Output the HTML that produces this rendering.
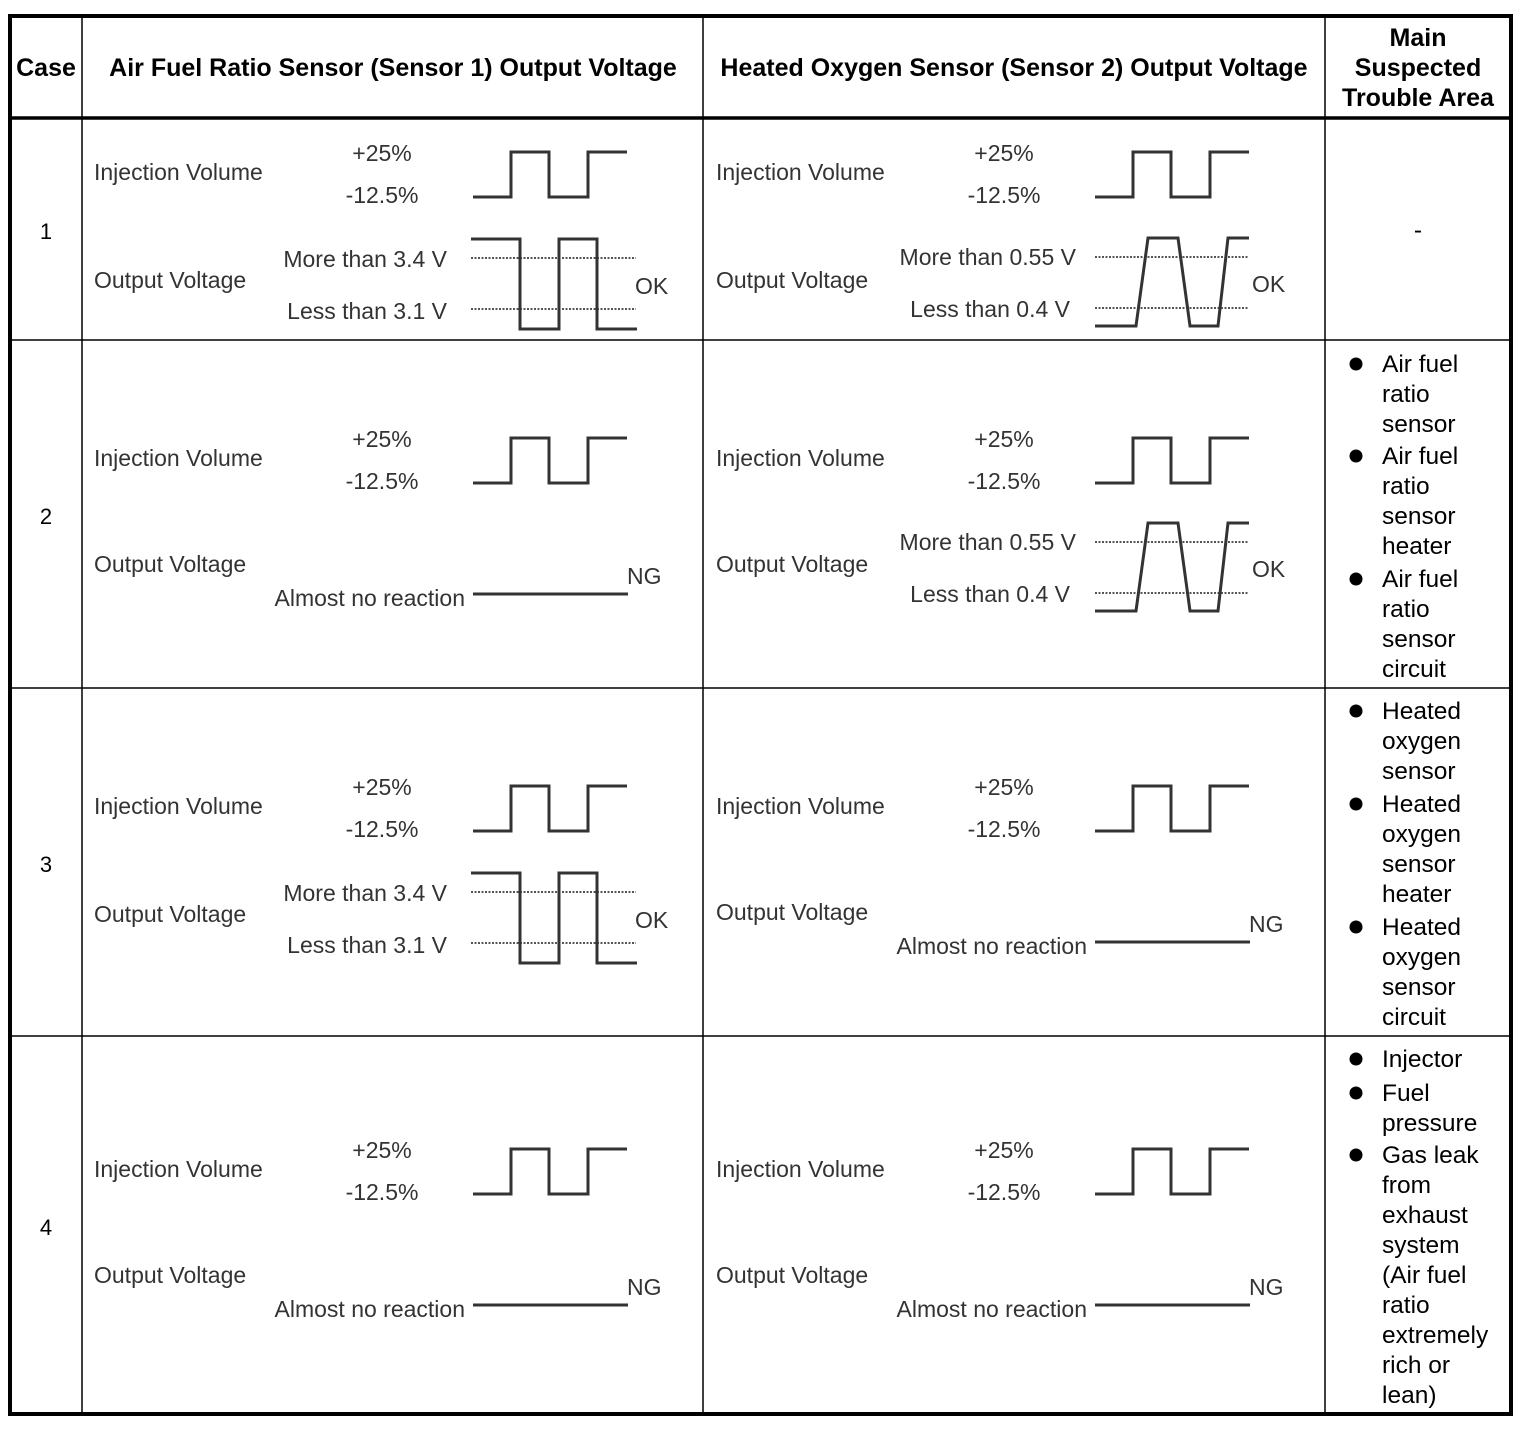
<!DOCTYPE html>
<html><head><meta charset="utf-8"><style>
html,body{margin:0;padding:0;background:#fff}
svg{display:block}
text{font-family:"Liberation Sans",Arial,sans-serif}
.t{font-size:23px;fill:#333}
.h{font-size:25px;font-weight:bold;fill:#000}
.r{font-size:24.5px;fill:#000}
.w{fill:none;stroke:#333;stroke-width:3}
.d{fill:none;stroke:#555;stroke-width:2;stroke-dasharray:2 1.5}
</style></head><body>
<svg width="1526" height="1430" viewBox="0 0 1526 1430">
<rect x="0" y="0" width="1526" height="1430" fill="#fff"/>
<g stroke="#000" fill="none">
<rect x="10" y="16" width="1501" height="1398" stroke-width="4"/>
<line x1="10" y1="118" x2="1511" y2="118" stroke-width="3.5"/>
<line x1="10" y1="340" x2="1511" y2="340" stroke-width="1.5"/>
<line x1="10" y1="688" x2="1511" y2="688" stroke-width="1.5"/>
<line x1="10" y1="1036" x2="1511" y2="1036" stroke-width="1.5"/>
<line x1="82" y1="16" x2="82" y2="1414" stroke-width="1.5"/>
<line x1="703" y1="16" x2="703" y2="1414" stroke-width="1.5"/>
<line x1="1325" y1="16" x2="1325" y2="1414" stroke-width="1.5"/>
</g>
<text class="h" x="46" y="76" text-anchor="middle">Case</text>
<text class="h" x="393" y="76" text-anchor="middle">Air Fuel Ratio Sensor (Sensor 1) Output Voltage</text>
<text class="h" x="1014" y="76" text-anchor="middle">Heated Oxygen Sensor (Sensor 2) Output Voltage</text>
<text class="h" x="1418" y="46" text-anchor="middle">Main</text>
<text class="h" x="1418" y="76" text-anchor="middle">Suspected</text>
<text class="h" x="1418" y="106" text-anchor="middle">Trouble Area</text>
<text class="r" x="46" y="239" text-anchor="middle" style="font-size:22px">1</text>
<text class="r" x="46" y="524" text-anchor="middle" style="font-size:22px">2</text>
<text class="r" x="46" y="872" text-anchor="middle" style="font-size:22px">3</text>
<text class="r" x="46" y="1235" text-anchor="middle" style="font-size:22px">4</text>

<g>
<text class="t" x="94" y="180">Injection Volume</text>
<text class="t" x="382" y="161" text-anchor="middle">+25%</text>
<text class="t" x="382" y="203" text-anchor="middle">-12.5%</text>
<polyline class="w" points="473,197 511,197 511,152 549,152 549,197 588,197 588,152 627,152"/>
<text class="t" x="94" y="288">Output Voltage</text>
</g>
<g transform="translate(622,0)"><text class="t" x="94" y="180">Injection Volume</text>
<text class="t" x="382" y="161" text-anchor="middle">+25%</text>
<text class="t" x="382" y="203" text-anchor="middle">-12.5%</text>
<polyline class="w" points="473,197 511,197 511,152 549,152 549,197 588,197 588,152 627,152"/>
<text class="t" x="94" y="288">Output Voltage</text></g>
<g transform="translate(0,286)"><text class="t" x="94" y="180">Injection Volume</text>
<text class="t" x="382" y="161" text-anchor="middle">+25%</text>
<text class="t" x="382" y="203" text-anchor="middle">-12.5%</text>
<polyline class="w" points="473,197 511,197 511,152 549,152 549,197 588,197 588,152 627,152"/>
<text class="t" x="94" y="286">Output Voltage</text></g>
<g transform="translate(622,286)"><text class="t" x="94" y="180">Injection Volume</text>
<text class="t" x="382" y="161" text-anchor="middle">+25%</text>
<text class="t" x="382" y="203" text-anchor="middle">-12.5%</text>
<polyline class="w" points="473,197 511,197 511,152 549,152 549,197 588,197 588,152 627,152"/>
<text class="t" x="94" y="286">Output Voltage</text></g>
<g transform="translate(0,634)"><text class="t" x="94" y="180">Injection Volume</text>
<text class="t" x="382" y="161" text-anchor="middle">+25%</text>
<text class="t" x="382" y="203" text-anchor="middle">-12.5%</text>
<polyline class="w" points="473,197 511,197 511,152 549,152 549,197 588,197 588,152 627,152"/>
<text class="t" x="94" y="288">Output Voltage</text></g>
<g transform="translate(622,634)"><text class="t" x="94" y="180">Injection Volume</text>
<text class="t" x="382" y="161" text-anchor="middle">+25%</text>
<text class="t" x="382" y="203" text-anchor="middle">-12.5%</text>
<polyline class="w" points="473,197 511,197 511,152 549,152 549,197 588,197 588,152 627,152"/>
<text class="t" x="94" y="286">Output Voltage</text></g>
<g transform="translate(0,997)"><text class="t" x="94" y="180">Injection Volume</text>
<text class="t" x="382" y="161" text-anchor="middle">+25%</text>
<text class="t" x="382" y="203" text-anchor="middle">-12.5%</text>
<polyline class="w" points="473,197 511,197 511,152 549,152 549,197 588,197 588,152 627,152"/>
<text class="t" x="94" y="286">Output Voltage</text></g>
<g transform="translate(622,997)"><text class="t" x="94" y="180">Injection Volume</text>
<text class="t" x="382" y="161" text-anchor="middle">+25%</text>
<text class="t" x="382" y="203" text-anchor="middle">-12.5%</text>
<polyline class="w" points="473,197 511,197 511,152 549,152 549,197 588,197 588,152 627,152"/>
<text class="t" x="94" y="286">Output Voltage</text></g>

<g>
<text class="t" x="447" y="267" text-anchor="end">More than 3.4 V</text>
<text class="t" x="447" y="319" text-anchor="end">Less than 3.1 V</text>
<line class="d" x1="471" y1="258" x2="636" y2="258"/>
<line class="d" x1="471" y1="309" x2="636" y2="309"/>
<polyline class="w" points="471,239 520,239 520,329 559,329 559,239 597,239 597,329 637,329"/>
<text class="t" x="635" y="294">OK</text>
</g>
<g transform="translate(0,634)">
<text class="t" x="447" y="267" text-anchor="end">More than 3.4 V</text>
<text class="t" x="447" y="319" text-anchor="end">Less than 3.1 V</text>
<line class="d" x1="471" y1="258" x2="636" y2="258"/>
<line class="d" x1="471" y1="309" x2="636" y2="309"/>
<polyline class="w" points="471,239 520,239 520,329 559,329 559,239 597,239 597,329 637,329"/>
<text class="t" x="635" y="294">OK</text>
</g>
<g>
<text class="t" x="1076" y="265" text-anchor="end">More than 0.55 V</text>
<text class="t" x="1070" y="317" text-anchor="end">Less than 0.4 V</text>
<line class="d" x1="1095" y1="257" x2="1249" y2="257"/>
<line class="d" x1="1095" y1="308" x2="1249" y2="308"/>
<polyline class="w" points="1095,326 1136,326 1148,238 1178,238 1190,326 1218,326 1228,238 1249,238"/>
<text class="t" x="1252" y="292">OK</text>
</g>
<g transform="translate(0,285)">
<text class="t" x="1076" y="265" text-anchor="end">More than 0.55 V</text>
<text class="t" x="1070" y="317" text-anchor="end">Less than 0.4 V</text>
<line class="d" x1="1095" y1="257" x2="1249" y2="257"/>
<line class="d" x1="1095" y1="308" x2="1249" y2="308"/>
<polyline class="w" points="1095,326 1136,326 1148,238 1178,238 1190,326 1218,326 1228,238 1249,238"/>
<text class="t" x="1252" y="292">OK</text>
</g>
<g transform="translate(0,286)">
<text class="t" x="465" y="320" text-anchor="end">Almost no reaction</text>
<line class="w" x1="473" y1="308" x2="628" y2="308"/>
<text class="t" x="627" y="298">NG</text>
</g>
<g transform="translate(622,634)">
<text class="t" x="465" y="320" text-anchor="end">Almost no reaction</text>
<line class="w" x1="473" y1="308" x2="628" y2="308"/>
<text class="t" x="627" y="298">NG</text>
</g>
<g transform="translate(0,997)">
<text class="t" x="465" y="320" text-anchor="end">Almost no reaction</text>
<line class="w" x1="473" y1="308" x2="628" y2="308"/>
<text class="t" x="627" y="298">NG</text>
</g>
<g transform="translate(622,997)">
<text class="t" x="465" y="320" text-anchor="end">Almost no reaction</text>
<line class="w" x1="473" y1="308" x2="628" y2="308"/>
<text class="t" x="627" y="298">NG</text>
</g>

<text class="r" x="1418" y="238" text-anchor="middle">-</text>
<g class="r">
<circle cx="1356" cy="364" r="6.5"/><circle cx="1356" cy="456" r="6.5"/><circle cx="1356" cy="579" r="6.5"/>
<text class="r" x="1382" y="372">Air fuel</text>
<text class="r" x="1382" y="402">ratio</text>
<text class="r" x="1382" y="432">sensor</text>
<text class="r" x="1382" y="464">Air fuel</text>
<text class="r" x="1382" y="494">ratio</text>
<text class="r" x="1382" y="524">sensor</text>
<text class="r" x="1382" y="554">heater</text>
<text class="r" x="1382" y="587">Air fuel</text>
<text class="r" x="1382" y="617">ratio</text>
<text class="r" x="1382" y="647">sensor</text>
<text class="r" x="1382" y="677">circuit</text>
<circle cx="1356" cy="711" r="6.5"/><circle cx="1356" cy="804" r="6.5"/><circle cx="1356" cy="927" r="6.5"/>
<text class="r" x="1382" y="719">Heated</text>
<text class="r" x="1382" y="749">oxygen</text>
<text class="r" x="1382" y="779">sensor</text>
<text class="r" x="1382" y="812">Heated</text>
<text class="r" x="1382" y="842">oxygen</text>
<text class="r" x="1382" y="872">sensor</text>
<text class="r" x="1382" y="902">heater</text>
<text class="r" x="1382" y="935">Heated</text>
<text class="r" x="1382" y="965">oxygen</text>
<text class="r" x="1382" y="995">sensor</text>
<text class="r" x="1382" y="1025">circuit</text>
<circle cx="1356" cy="1059" r="6.5"/><circle cx="1356" cy="1093" r="6.5"/><circle cx="1356" cy="1155" r="6.5"/>
<text class="r" x="1382" y="1067">Injector</text>
<text class="r" x="1382" y="1101">Fuel</text>
<text class="r" x="1382" y="1131">pressure</text>
<text class="r" x="1382" y="1163">Gas leak</text>
<text class="r" x="1382" y="1193">from</text>
<text class="r" x="1382" y="1223">exhaust</text>
<text class="r" x="1382" y="1253">system</text>
<text class="r" x="1382" y="1283">(Air fuel</text>
<text class="r" x="1382" y="1313">ratio</text>
<text class="r" x="1382" y="1343">extremely</text>
<text class="r" x="1382" y="1373">rich or</text>
<text class="r" x="1382" y="1403">lean)</text>
</g>
</svg>
</body></html>
